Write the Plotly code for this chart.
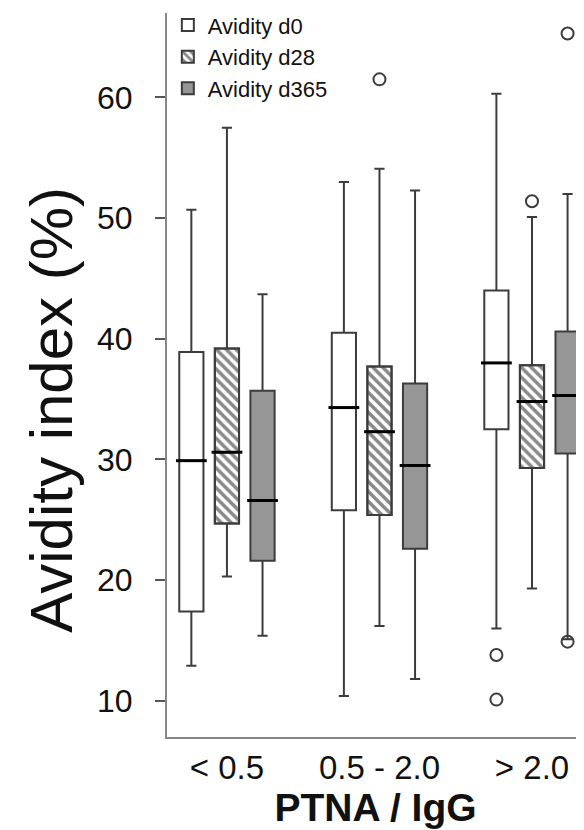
import plotly.graph_objects as go

categories = ["< 0.5", "0.5 - 2.0", "> 2.0"]
series_names = ["Avidity d0", "Avidity d28", "Avidity d365"]

# Avidity d0
d0_upper = [50.7, 53.0, 60.3]
d0_q3 = [38.9, 40.5, 44.0]
d0_median = [29.9, 34.3, 38.0]
d0_q1 = [17.4, 25.8, 32.5]
d0_lower = [12.9, 10.4, 16.0]
d0_outlier_cat = ["> 2.0", "> 2.0"]
d0_outlier_val = [13.8, 10.1]

# Avidity d28
d28_upper = [57.5, 54.1, 50.1]
d28_q3 = [39.2, 37.7, 37.8]
d28_median = [30.6, 32.3, 34.8]
d28_q1 = [24.7, 25.4, 29.3]
d28_lower = [20.3, 16.2, 19.3]
d28_outlier_cat = ["0.5 - 2.0", "> 2.0"]
d28_outlier_val = [61.5, 51.4]

# Avidity d365
d365_upper = [43.7, 52.3, 52.0]
d365_q3 = [35.7, 36.3, 40.6]
d365_median = [26.6, 29.5, 35.3]
d365_q1 = [21.6, 22.6, 30.5]
d365_lower = [15.4, 11.8, 15.1]
d365_outlier_cat = ["> 2.0", "> 2.0"]
d365_outlier_val = [65.3, 14.9]

y_ticks = [10, 20, 30, 40, 50, 60]

FONT = "Liberation Sans, Arial, sans-serif"
LINE = "#3c3c3c"
LW = 2
GAP = 0.3
BOXGROUPGAP = 0.32
box_width = (1 - GAP) / 3 * (1 - BOXGROUPGAP)

# page body has an 8px margin: size the figure so it fills the 584x830 window
FIG_W, FIG_H = 576, 822


def box(name, q1, med, q3, lo, hi, fill, showlegend=True):
    return go.Box(
        name=name,
        x=categories,
        q1=q1, median=med, q3=q3, lowerfence=lo, upperfence=hi,
        boxpoints=False,
        fillcolor=fill,
        line=dict(color=LINE, width=LW),
        whiskerwidth=0.42,
        offsetgroup=name,
        showlegend=showlegend,
        legendgroup=name,
        hoverinfo="skip",
    )


def outliers(name, cats, vals):
    return go.Scatter(
        name=name, x=cats, y=vals, mode="markers",
        marker=dict(symbol="circle-open", size=12, color=LINE,
                    line=dict(width=LW, color=LINE)),
        offsetgroup=name, legendgroup=name, showlegend=False,
    )


def median_line(name, med):
    return go.Scatter(
        name=name, x=categories, y=med, mode="markers",
        marker=dict(symbol="line-ew", size=22, color="black",
                    line=dict(width=3, color="black")),
        offsetgroup=name, legendgroup=name, showlegend=False,
        hoverinfo="skip",
    )


fig = go.Figure()
fig.add_trace(outliers(series_names[0], d0_outlier_cat, d0_outlier_val))
fig.add_trace(box(series_names[0], d0_q1, d0_median, d0_q3, d0_lower,
                  d0_upper, "white"))
# hatched fill for d28 drawn as a bar spanning q1..q3 (under the box outline)
fig.add_trace(go.Bar(
    name=series_names[1],
    x=categories,
    base=d28_q1,
    y=[b - a for a, b in zip(d28_q1, d28_q3)],
    width=box_width,
    offsetgroup=series_names[1],
    marker=dict(color="white",
                line=dict(color=LINE, width=LW),
                pattern=dict(shape="\\", fgcolor="#111", bgcolor="white",
                             size=7, solidity=0.5)),
    legendgroup=series_names[1],
    hoverinfo="skip",
))
fig.add_trace(box(series_names[1], d28_q1, d28_median, d28_q3, d28_lower,
                  d28_upper, "rgba(0,0,0,0)", showlegend=False))
fig.add_trace(box(series_names[2], d365_q1, d365_median, d365_q3, d365_lower,
                  d365_upper, "#969696"))
fig.add_trace(outliers(series_names[1], d28_outlier_cat, d28_outlier_val))
fig.add_trace(outliers(series_names[2], d365_outlier_cat, d365_outlier_val))
fig.add_trace(median_line(series_names[0], d0_median))
fig.add_trace(median_line(series_names[1], d28_median))
fig.add_trace(median_line(series_names[2], d365_median))

fig.update_layout(
    width=FIG_W, height=FIG_H,
    margin=dict(l=159, r=0, t=5, b=93, autoexpand=False),
    paper_bgcolor="white", plot_bgcolor="white",
    boxmode="group", boxgap=GAP, boxgroupgap=BOXGROUPGAP,
    scattermode="group", scattergap=GAP,
    barmode="group", bargap=GAP, bargroupgap=0,
    font=dict(family=FONT, color="#111"),
    legend=dict(x=0.002, y=1.012, xanchor="left", yanchor="top",
                font=dict(size=22, family=FONT), bgcolor="rgba(0,0,0,0)",
                tracegroupgap=0),
    annotations=[dict(
        text="Avidity index (%)", textangle=-90,
        xref="paper", yref="paper", x=-0.276, y=0.452,
        xanchor="center", yanchor="middle", showarrow=False,
        font=dict(size=60, family=FONT, color="#111"),
    )],
)
fig.update_xaxes(
    type="category", categoryorder="array", categoryarray=categories,
    range=[-0.393, 2.341], automargin=False,
    showline=True, linecolor="#888", linewidth=2, mirror=False,
    showgrid=False, ticks="", tickfont=dict(size=33, family=FONT),
    title=dict(text="<b>PTNA / IgG</b>", font=dict(size=39, family=FONT),
               standoff=9),
)
fig.update_yaxes(
    range=[7.0, 67.0], tickvals=y_ticks, automargin=False,
    showline=True, linecolor="#888", linewidth=2,
    showgrid=False, zeroline=False, ticks="outside", ticklen=10,
    tickcolor="#555", tickwidth=1.5, ticklabelstandoff=16,
    tickfont=dict(size=32, family=FONT),
)

fig.write_html("out.html")
